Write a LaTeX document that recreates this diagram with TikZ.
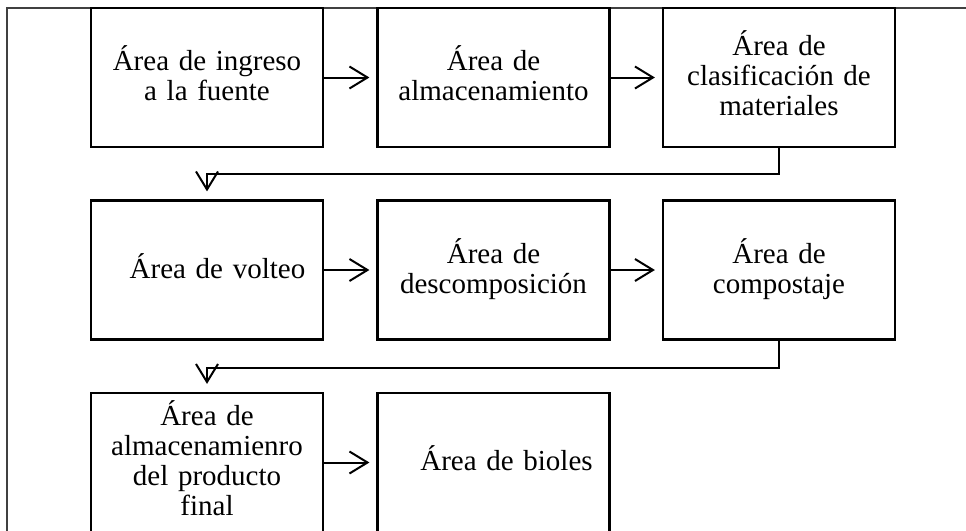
\documentclass[tikz,border=0pt]{standalone}
\usepackage{fontspec}
\setmainfont{Liberation Serif}
\usetikzlibrary{arrows.meta}
\newcommand\tstr{\rule{0pt}{26pt}}
\newcommand\bstr{\rule[-10pt]{0pt}{10pt}}
\begin{document}
\begin{tikzpicture}[x=1pt,y=-1pt,
  box/.style={draw=black,line width=2.2pt,minimum width=232pt,minimum height=139pt,inner sep=0pt,
    align=center,text width=228pt,font=\fontsize{29}{30}\selectfont},
  arr/.style={line width=2pt,-{Straight Barb[length=18pt,width=22pt]}},
  lnk/.style={line width=2pt}]
\useasboundingbox (0,0) rectangle (966,530);
\clip (0,0) rectangle (966,530);
\fill[white] (0,0) rectangle (966,530);
\draw[black!75,line width=1.2pt] (966,8) -- (7,8) -- (7,531);
\node[box] (a1) at (207,77.5) {\tstr Área de ingreso\\a la fuente\bstr};
\node[box] (a2) at (493.5,77.5) {\tstr Área de\\almacenamiento\bstr};
\node[box] (a3) at (779,77.5) {\tstr Área de\\clasificación de\\materiales\bstr};
\node[box] (b1) at (207,270) {\hspace*{21pt}\tstr Área de volteo\bstr};
\node[box] (b2) at (493.5,270) {\tstr Área de\\descomposición\bstr};
\node[box] (b3) at (779,270) {\tstr Área de\\compostaje\bstr};
\node[box] (c1) at (207,462.5) {\tstr Área de\\almacenamienro\\del producto\\final\bstr};
\node[box] (c2) at (493.5,462.5) {\hspace*{26pt}\tstr Área de bioles\bstr};
\draw[arr,shorten >=7pt] (a1.east) -- (a2.west);
\draw[arr,shorten >=7pt] (a2.east) -- (a3.west);
\draw[arr,shorten >=7pt] (b1.east) -- (b2.west);
\draw[arr,shorten >=7pt] (b2.east) -- (b3.west);
\draw[arr,shorten >=7pt] (c1.east) -- (c2.west);
\draw[arr] (a3.south) -- ++(0,26) -| ([yshift=8pt]b1.north);
\draw[arr] (b3.south) -- ++(0,27) -| ([yshift=8pt]c1.north);
\end{tikzpicture}
\end{document}
